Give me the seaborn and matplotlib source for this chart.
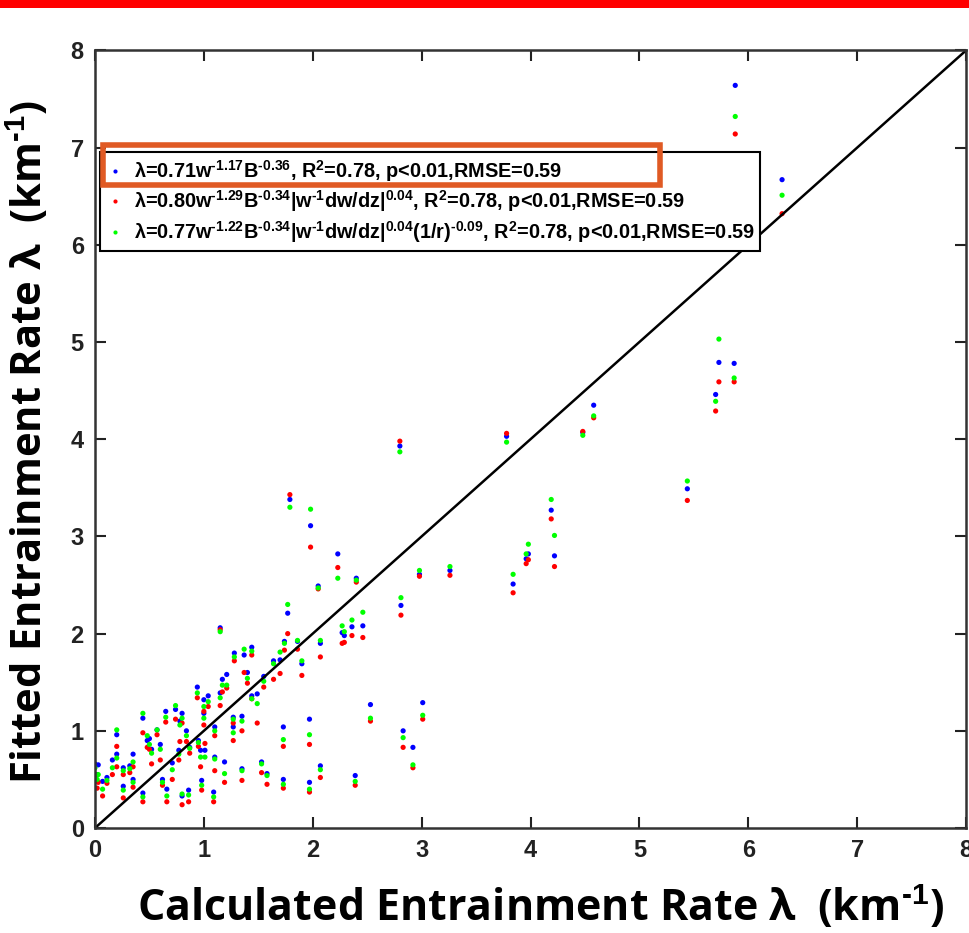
import numpy as np
import pandas as pd
import matplotlib
matplotlib.use("Agg")
import matplotlib.pyplot as plt
from matplotlib.patches import Rectangle
import seaborn as sns

# ---- data ----
calc = [0.00, 0.03, 0.02, 0.07, 0.11, 0.16, 0.20, 0.20, 0.26, 0.26,
        0.32, 0.35, 0.35, 0.44, 0.44, 0.48, 0.50, 0.52, 0.57, 0.60,
        0.62, 0.65, 0.66, 0.71, 0.74, 0.77, 0.78, 0.80, 0.80, 0.86,
        0.84, 0.87, 0.94, 0.95, 0.97, 0.98, 1.00, 1.00, 1.01, 1.04,
        1.09, 1.10, 1.10, 1.15, 1.15, 1.17, 1.19, 1.21, 1.27, 1.27,
        1.28, 1.35, 1.35, 1.37, 1.40, 1.44, 1.44, 1.49, 1.53, 1.55,
        1.58, 1.64, 1.70, 1.73, 1.73, 1.74, 1.77, 1.79, 1.86, 1.90,
        1.97, 1.97, 1.98, 2.05, 2.07, 2.07, 2.23, 2.27, 2.29, 2.36,
        2.39, 2.40, 2.46, 2.53, 2.80, 2.81, 2.83, 2.92, 2.98, 3.01,
        3.26, 3.78, 3.84, 3.96, 3.98, 4.19, 4.22, 4.48, 4.58, 5.44,
        5.70, 5.73, 5.87, 5.88, 6.31]

fit_blue = [0.66, 0.65, 0.55, 0.48, 0.52, 0.70, 0.96, 0.76, 0.62, 0.43,
            0.64, 0.76, 0.50, 1.13, 0.36, 0.90, 0.92, 0.81, 1.01, 0.86,
            0.50, 1.20, 0.40, 0.67, 1.22, 0.80, 1.10, 1.18, 0.33, 0.39,
            1.00, 0.83, 1.45, 0.90, 0.80, 0.49, 1.32, 1.18, 0.80, 1.36,
            0.37, 1.04, 0.73, 2.06, 1.39, 1.53, 0.68, 1.58, 1.14, 1.04,
            1.80, 1.15, 0.61, 1.78, 1.60, 1.86, 1.36, 1.38, 0.68, 1.56,
            0.56, 1.72, 1.73, 1.04, 0.50, 1.92, 2.21, 3.38, 1.92, 1.69,
            1.12, 0.47, 3.11, 2.49, 1.90, 0.64, 2.82, 2.01, 1.98, 2.07,
            0.54, 2.57, 2.08, 1.27, 3.93, 2.29, 1.00, 0.83, 2.61, 1.29,
            2.65, 4.03, 2.51, 2.77, 2.82, 3.27, 2.80, 4.07, 4.35, 3.49,
            4.46, 4.79, 4.78, 7.64, 6.67]

fit_red = [0.55, 0.47, 0.41, 0.33, 0.46, 0.55, 0.84, 0.63, 0.55, 0.31,
           0.57, 0.63, 0.42, 0.98, 0.27, 0.83, 0.81, 0.66, 0.96, 0.70,
           0.44, 1.09, 0.27, 0.50, 1.12, 0.70, 0.89, 1.08, 0.24, 0.27,
           0.89, 0.77, 1.34, 0.84, 0.63, 0.39, 1.20, 1.06, 0.87, 1.25,
           0.27, 0.95, 0.59, 2.04, 1.26, 1.40, 0.47, 1.44, 1.08, 0.90,
           1.72, 1.00, 0.49, 1.60, 1.49, 1.78, 1.33, 1.08, 0.57, 1.45,
           0.45, 1.53, 1.59, 0.84, 0.41, 1.83, 2.00, 3.43, 1.84, 1.57,
           0.86, 0.37, 2.89, 2.46, 1.76, 0.52, 2.68, 1.90, 1.91, 1.98,
           0.44, 2.53, 1.96, 1.10, 3.98, 2.19, 0.83, 0.62, 2.59, 1.12,
           2.60, 4.06, 2.42, 2.72, 2.76, 3.18, 2.69, 4.08, 4.22, 3.37,
           4.29, 4.59, 4.59, 7.14, 6.32]

fit_green = [0.62, 0.55, 0.50, 0.40, 0.49, 0.62, 1.01, 0.72, 0.59, 0.39,
             0.61, 0.68, 0.47, 1.18, 0.32, 0.95, 0.86, 0.77, 1.01, 0.81,
             0.47, 1.14, 0.33, 0.60, 1.26, 0.76, 1.06, 1.13, 0.35, 0.34,
             0.95, 0.82, 1.39, 0.88, 0.73, 0.44, 1.25, 1.13, 0.73, 1.30,
             0.32, 1.00, 0.71, 2.02, 1.34, 1.47, 0.56, 1.47, 1.12, 0.98,
             1.76, 1.10, 0.59, 1.84, 1.54, 1.82, 1.33, 1.28, 0.66, 1.51,
             0.54, 1.69, 1.81, 0.91, 0.45, 1.90, 2.30, 3.30, 1.93, 1.72,
             0.96, 0.40, 3.28, 2.47, 1.93, 0.60, 2.57, 2.08, 2.02, 2.14,
             0.48, 2.55, 2.22, 1.13, 3.87, 2.37, 0.93, 0.65, 2.65, 1.16,
             2.69, 3.97, 2.61, 2.82, 2.92, 3.38, 3.01, 4.04, 4.24, 3.57,
             4.39, 5.03, 4.63, 7.32, 6.51]

H = "\u2010"  # short hyphen used in the superscripts
series_labels = [
    f"λ=0.71w$^{{{H}1.17}}$B$^{{{H}0.36}}$, R$^{{2}}$=0.78, p<0.01,RMSE=0.59",
    f"λ=0.80w$^{{{H}1.29}}$B$^{{{H}0.34}}$|w$^{{{H}1}}$dw/dz|$^{{0.04}}$, R$^{{2}}$=0.78, p<0.01,RMSE=0.59",
    f"λ=0.77w$^{{{H}1.22}}$B$^{{{H}0.34}}$|w$^{{{H}1}}$dw/dz|$^{{0.04}}$(1/r)$^{{{H}0.09}}$, R$^{{2}}$=0.78, p<0.01,RMSE=0.59",
]
series_colors = ["#0000FF", "#FF0000", "#00FF00"]
ticks = [0, 1, 2, 3, 4, 5, 6, 7, 8]
x_label = f"Calculated Entrainment Rate λ  (km$^{{{H}1}}$)"
y_label = f"Fitted Entrainment Rate λ  (km$^{{{H}1}}$)"

# ---- build long table ----
df = pd.DataFrame({
    "calc": calc * 3,
    "fit": fit_blue + fit_red + fit_green,
    "model": [series_labels[0]] * len(calc) + [series_labels[1]] * len(calc)
             + [series_labels[2]] * len(calc),
})

sns.set_theme(style="white")
plt.rcParams["font.family"] = ["Liberation Sans", "DejaVu Sans"]
plt.rcParams["mathtext.fontset"] = "custom"
plt.rcParams["mathtext.rm"] = "Liberation Sans:bold"
plt.rcParams["mathtext.it"] = "Liberation Sans:bold"
plt.rcParams["mathtext.bf"] = "Liberation Sans:bold"
plt.rcParams["text.color"] = "black"

fig = plt.figure(figsize=(9.69, 9.33), dpi=100)
ax = fig.add_axes([0.098, 0.1125, 0.899, 0.8335])

sns.scatterplot(data=df, x="calc", y="fit", hue="model",
                hue_order=series_labels, palette=series_colors,
                s=14, linewidth=0, edgecolor="none", ax=ax, legend=True)

ax.plot([0, 8], [0, 8], color="black", lw=1.8, zorder=1)

ax.set_xlim(0, 8)
ax.set_ylim(0, 8)
ax.set_xticks(ticks)
ax.set_yticks(ticks)
ax.set_xticklabels([str(t) for t in ticks], fontsize=17, fontweight="bold")
ax.set_yticklabels([str(t) for t in ticks], fontsize=17, fontweight="bold")
ax.tick_params(direction="in", length=8, width=1.5, top=True, right=True,
               bottom=True, left=True, pad=8, colors="#222222")
for sp in ax.spines.values():
    sp.set_color("#333333")
    sp.set_linewidth(1.8)
    sp.set_visible(True)

ax.set_xlabel(x_label, fontsize=31, fontweight="bold", color="black",
              family=["Open Sans", "DejaVu Sans"])
ax.set_ylabel(y_label, fontsize=30, fontweight="bold", color="black",
              family=["Open Sans", "DejaVu Sans"])
ax.xaxis.set_label_coords(0.511, -0.072)
ax.yaxis.set_label_coords(-0.049, 0.496)

leg = ax.legend(loc="upper left", bbox_to_anchor=(0.006, 0.869),
                borderaxespad=0, frameon=True, fancybox=False,
                framealpha=1, edgecolor="black", handletextpad=0.5,
                handlelength=0.9, labelspacing=0.22, borderpad=0.3,
                markerscale=0.8, labelcolor="black",
                prop={"family": "Liberation Sans", "weight": "bold", "size": 14.3})
leg.get_frame().set_linewidth(1.5)

# red line on top of the image and orange highlight box
fig.add_artist(Rectangle((0, 1 - 8 / 933), 1, 8 / 933, transform=fig.transFigure,
                         facecolor="#FF0000", edgecolor="none"))
fig.add_artist(Rectangle((103 / 969, 1 - 185 / 933), (660 - 103) / 969, 40 / 933,
                         transform=fig.transFigure, facecolor="none",
                         edgecolor="#E05A24", linewidth=4, zorder=10))

fig.savefig("out.png", dpi=100)
